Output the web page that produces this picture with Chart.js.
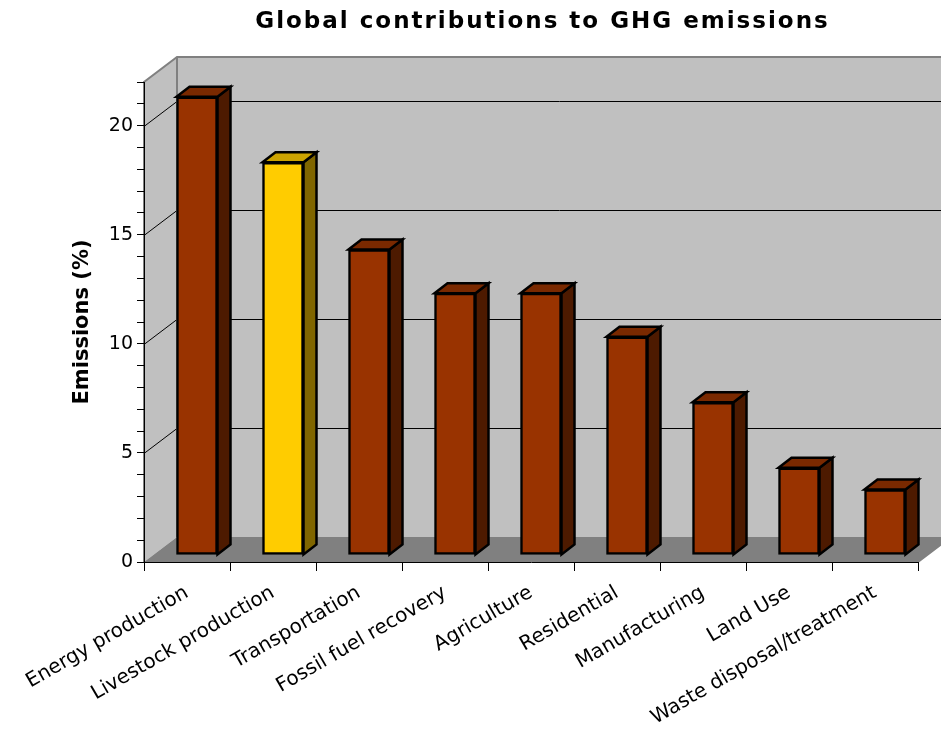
<!DOCTYPE html>
<html>
<head>
<meta charset="utf-8">
<script src="https://cdn.jsdelivr.net/npm/chart.js@4.4.0/dist/chart.umd.min.js"></script>
<style>
  html, body { margin: 0; padding: 0; background: #ffffff; }
  #wrap { width: 941px; height: 729px; position: relative; }
</style>
</head>
<body>
<div id="wrap"><canvas id="ghgChart"></canvas></div>
<script>
// Data.
const chartTitle = 'Global contributions to GHG emissions';
const categories = [
  'Energy production',
  'Livestock production',
  'Transportation',
  'Fossil fuel recovery',
  'Agriculture',
  'Residential',
  'Manufacturing',
  'Land Use',
  'Waste disposal/treatment'
];
const emissions = [21, 18, 14, 12, 12, 10, 7, 4, 3];
const highlighted = [false, true, false, false, false, false, false, false, false];
const yMin = 0;
const yMax = 22;
const yLabelStep = 5;

// Colours: front, top and side faces.
const frontColors = highlighted.map((h) => h ? '#ffcc00' : '#993300');
const topColors = highlighted.map((h) => h ? '#cca300' : '#7a2900');
const sideColors = highlighted.map((h) => h ? '#806600' : '#4d1a00');

// 3D depth of the plot box and of each bar (pixels).
const wallDepth = {x: 33, y: -25};
const barShift = {x: 10, y: -7};
const barDepth = {x: 13, y: -10};

const fontFamily = "'DejaVu Sans', Verdana, sans-serif";

const poly = (ctx, pts, fill, stroke, lw) => {
  ctx.beginPath();
  ctx.moveTo(pts[0][0], pts[0][1]);
  for (let i = 1; i < pts.length; i++) ctx.lineTo(pts[i][0], pts[i][1]);
  ctx.closePath();
  if (fill) { ctx.fillStyle = fill; ctx.fill(); }
  if (stroke) { ctx.strokeStyle = stroke; ctx.lineWidth = lw || 1; ctx.stroke(); }
};

// Walls, floor and back gridlines.
const wallsPlugin = {
  id: 'walls',
  beforeDraw(chart) {
    const {ctx, chartArea: a, scales} = chart;
    const dx = wallDepth.x, dy = wallDepth.y;
    const farRight = a.right + dx;
    ctx.save();
    // back wall
    poly(ctx, [[a.left + dx, a.top + dy], [farRight, a.top + dy],
      [farRight, a.bottom + dy], [a.left + dx, a.bottom + dy]], '#c0c0c0');
    // left wall
    poly(ctx, [[a.left, a.top], [a.left + dx, a.top + dy],
      [a.left + dx, a.bottom + dy], [a.left, a.bottom]], '#c0c0c0');
    // floor
    poly(ctx, [[a.left, a.bottom], [a.right, a.bottom],
      [farRight, a.bottom + dy], [a.left + dx, a.bottom + dy]], '#808080');

    // gridlines on back and left wall
    ctx.strokeStyle = '#000000';
    ctx.lineWidth = 1;
    for (let v = yMin + yLabelStep; v <= yMax; v += yLabelStep) {
      const y = Math.round(scales.y.getPixelForValue(v)) + 0.5;
      ctx.beginPath();
      ctx.moveTo(a.left, y);
      ctx.lineTo(a.left + dx, y + dy);
      ctx.lineTo(farRight, y + dy);
      ctx.stroke();
    }

    // wall outlines
    ctx.strokeStyle = '#808080';
    ctx.lineWidth = 2;
    ctx.beginPath();
    ctx.moveTo(a.left, a.bottom);
    ctx.lineTo(a.left, a.top);
    ctx.lineTo(a.left + dx, a.top + dy);
    ctx.lineTo(farRight, a.top + dy);
    ctx.moveTo(a.left + dx, a.top + dy);
    ctx.lineTo(a.left + dx, a.bottom + dy);
    ctx.moveTo(a.right, a.bottom);
    ctx.lineTo(farRight, a.bottom + dy);
    ctx.stroke();
    ctx.restore();
  },
  // title, centred over the plot box like the original
  afterDraw(chart) {
    const {ctx, chartArea: a} = chart;
    ctx.save();
    ctx.font = 'bold 23px ' + fontFamily;
    ctx.letterSpacing = '2px';
    ctx.fillStyle = '#000000';
    ctx.textAlign = 'center';
    ctx.textBaseline = 'alphabetic';
    ctx.fillText(chartTitle, (a.left + chart.width) / 2, 28);
    ctx.restore();
  }
};

// Side and top faces of the bars, bars pushed back into the box.
const bars3dPlugin = {
  id: 'bars3d',
  beforeDatasetsDraw(chart) {
    const {ctx} = chart;
    ctx.save();
    ctx.translate(barShift.x, barShift.y);
    const meta = chart.getDatasetMeta(0);
    const dx = barDepth.x, dy = barDepth.y;
    meta.data.forEach((bar, i) => {
      const p = bar.getProps(['x', 'y', 'base', 'width'], true);
      const l = p.x - p.width / 2, r = p.x + p.width / 2;
      const t = p.y, b = p.base;
      poly(ctx, [[r, t], [r + dx, t + dy], [r + dx, b + dy], [r, b]],
        sideColors[i], '#000000', 2.5);
      poly(ctx, [[l, t], [l + dx, t + dy], [r + dx, t + dy], [r, t]],
        topColors[i], '#000000', 2.5);
    });
  },
  afterDatasetsDraw(chart) {
    chart.ctx.restore();
  }
};

Chart.defaults.font.family = fontFamily;
Chart.defaults.color = '#000000';

const canvas = document.getElementById('ghgChart');

const config = {
  type: 'bar',
  data: {
    labels: categories,
    datasets: [{
      label: 'Emissions (%)',
      data: emissions,
      backgroundColor: frontColors,
      borderColor: '#000000',
      borderWidth: 2.5,
      borderSkipped: false,
      barThickness: 41
    }]
  },
  options: {
    responsive: true,
    maintainAspectRatio: false,
    animation: false,
    layout: {padding: {left: 0, right: 23, top: 82, bottom: 0}},
    plugins: {
      legend: {display: false},
      tooltip: {enabled: false},
      title: {display: false}
    },
    scales: {
      x: {
        offset: true,
        grid: {
          offset: true,
          drawOnChartArea: false,
          drawTicks: true,
          tickLength: 9,
          color: '#000000'
        },
        border: {display: true, color: '#000000', width: 1},
        ticks: {
          font: {size: 20},
          color: '#000000',
          minRotation: 30,
          maxRotation: 30,
          autoSkip: false,
          padding: 10
        },
        afterFit: (scale) => { scale.height = 167; }
      },
      y: {
        min: yMin,
        max: yMax,
        grid: {
          drawOnChartArea: false,
          drawTicks: true,
          tickLength: 7,
          color: '#000000'
        },
        border: {display: true, color: '#000000', width: 1},
        ticks: {
          stepSize: 1,
          font: {size: 19},
          color: '#000000',
          padding: 4,
          autoSkip: false,
          callback: (v) => (v % yLabelStep === 0 ? v : '')
        },
        title: {
          display: true,
          text: 'Emissions (%)',
          font: {size: 21, weight: 'bold'},
          color: '#000000',
          padding: {top: 70, bottom: 0}
        },
        afterFit: (scale) => { scale.width = 144; }
      }
    }
  },
  plugins: [wallsPlugin, bars3dPlugin]
};

const ghgChart = new Chart(canvas, config);
</script>
</body>
</html>
